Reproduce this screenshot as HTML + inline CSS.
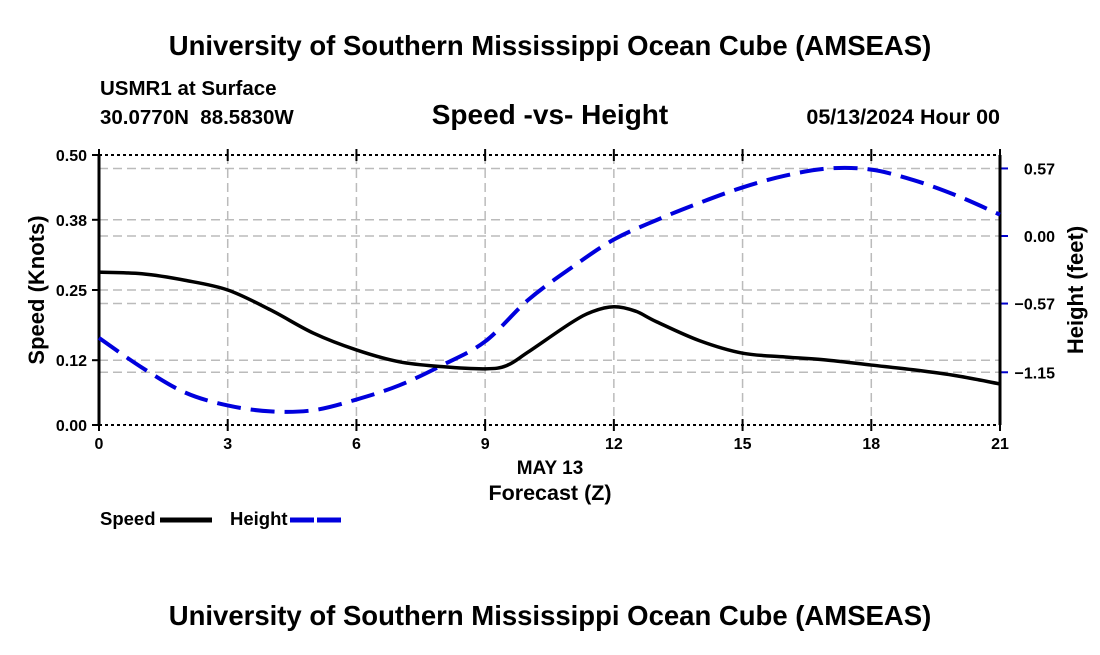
<!DOCTYPE html>
<html><head><meta charset="utf-8"><style>
body{margin:0;background:#fff;width:1100px;height:650px;overflow:hidden}
svg text{font-family:"Liberation Sans",Arial,sans-serif;font-weight:bold;fill:#000}
</style></head><body>
<svg id="chart" width="1100" height="650" xmlns="http://www.w3.org/2000/svg">
<text x="550" y="55" font-size="27.5" text-anchor="middle">University of Southern Mississippi Ocean Cube (AMSEAS)</text>
<text x="100" y="95" font-size="20.5">USMR1 at Surface</text>
<text x="100" y="124" font-size="20.5" xml:space="preserve" style="white-space:pre">30.0770N  88.5830W</text>
<text x="550" y="124" font-size="28" text-anchor="middle">Speed -vs- Height</text>
<text x="1000" y="124" font-size="21.5" text-anchor="end">05/13/2024 Hour 00</text>
<g id="grid"></g>
<g id="axes"></g>
<g id="series"></g>
<text x="550" y="474" font-size="19" text-anchor="middle">MAY 13</text>
<text x="550" y="500" font-size="21.5" text-anchor="middle">Forecast (Z)</text>
<text transform="translate(44,290) rotate(-90)" font-size="22" text-anchor="middle">Speed (Knots)</text>
<text transform="translate(1083,290) rotate(-90)" font-size="22" text-anchor="middle">Height (feet)</text>
<g>
<text x="100" y="525" font-size="18.5">Speed</text>
<line x1="160" y1="520" x2="212" y2="520" stroke="#000" stroke-width="5"/></g>
<g>
<text x="230" y="525" font-size="18.5">Height</text>
<line x1="290" y1="520" x2="342" y2="520" stroke="#0000dd" stroke-width="5" stroke-dasharray="24,3"/></g>
<text x="550" y="625" font-size="27.5" text-anchor="middle">University of Southern Mississippi Ocean Cube (AMSEAS)</text>
</svg>
<script>
const hours=[0,1,2,3,4,5,6,7,8,9,9.5,10,11,11.5,12,12.5,13,14,15,16,17,18,19,20,21];
const speed=[0.283,0.28,0.268,0.25,0.213,0.17,0.139,0.117,0.108,0.104,0.11,0.135,0.189,0.21,0.219,0.211,0.191,0.156,0.133,0.126,0.12,0.111,0.102,0.091,0.076];
const hHours=[0,1,2,3,4,5,6,7,8,9,10,11,12,13,14,15,16,17,18,19,20,21];
const height=[-0.86,-1.11,-1.32,-1.43,-1.48,-1.47,-1.38,-1.26,-1.09,-0.89,-0.54,-0.27,-0.03,0.135,0.28,0.41,0.51,0.57,0.56,0.47,0.34,0.18];
const xTicks=[0,3,6,9,12,15,18,21];
const yTicks=[0,0.12,0.25,0.38,0.5];
const y2Ticks=[-1.15,-0.57,0,0.57];
const L=99,R=1000,T=155,B=425;
const xs=h=>L+h*(R-L)/21;
const ys=v=>B-v*(B-T)/0.5;
const y2s=v=>236-v*118.5;
const NS="http://www.w3.org/2000/svg";
function mk(parent,tag,attrs){const e=document.createElementNS(NS,tag);for(const k in attrs)e.setAttribute(k,attrs[k]);document.getElementById(parent).appendChild(e);return e;}
xTicks.forEach(t=>{
 if(t>0&&t<21){const g=mk('grid','line',{x1:xs(t),x2:xs(t),y1:T,y2:B,stroke:'#bbb','stroke-width':1.5,'stroke-dasharray':'9,5'});
 
 }
 const tk=mk('axes','line',{x1:xs(t),x2:xs(t),y1:B-6,y2:B+6,stroke:'#000','stroke-width':2});
 
 
 const tt=mk('axes','line',{x1:xs(t),x2:xs(t),y1:T-6,y2:T+6,stroke:'#000','stroke-width':2});
 
 
 const lb=mk('axes','text',{x:xs(t),y:B+24,'font-size':16,'text-anchor':'middle'});lb.textContent=t;
 
 
});
yTicks.forEach(t=>{
 if(t>0&&t<0.5){const g=mk('grid','line',{x1:L,x2:R,y1:ys(t),y2:ys(t),stroke:'#bbb','stroke-width':1.5,'stroke-dasharray':'9,5'});
 
 }
 const tk=mk('axes','line',{x1:L-7,x2:L,y1:ys(t),y2:ys(t),stroke:'#000','stroke-width':2});
 
 
 const lb=mk('axes','text',{x:L-12,y:ys(t)+6,'font-size':16,'text-anchor':'end'});lb.textContent=t.toFixed(2);
 
 
});
y2Ticks.forEach(t=>{
 const g=mk('grid','line',{x1:L,x2:R,y1:y2s(t),y2:y2s(t),stroke:'#bbb','stroke-width':1.5,'stroke-dasharray':'9,5'});
 
 
 const tk=mk('axes','line',{x1:R,x2:R+8,y1:y2s(t),y2:y2s(t),stroke:'#0000cc','stroke-width':2});
 
 
 const lb=mk('axes','text',{x:1055,y:y2s(t)+6,'font-size':16,'text-anchor':'end'});lb.textContent=(t<0?'\u2212':'')+Math.abs(t).toFixed(2);
 
 
});
[T,B].forEach(y=>{const l=mk('axes','line',{x1:L,x2:R,y1:y,y2:y,stroke:'#000','stroke-width':2,'stroke-dasharray':'3,3'});
 
 });
[L,R].forEach(x=>{const l=mk('axes','line',{x1:x,x2:x,y1:T,y2:B,stroke:'#000','stroke-width':3});
 
 });
function smooth(pts){let d='M'+pts[0][0]+','+pts[0][1];for(let i=0;i<pts.length-1;i++){const p0=pts[i-1]||pts[i],p1=pts[i],p2=pts[i+1],p3=pts[i+2]||p2;
 d+=' C'+(p1[0]+(p2[0]-p0[0])/6)+','+(p1[1]+(p2[1]-p0[1])/6)+' '+(p2[0]-(p3[0]-p1[0])/6)+','+(p2[1]-(p3[1]-p1[1])/6)+' '+p2[0]+','+p2[1];}return d;}
const hp=mk('series','path',{d:smooth(hHours.map((h,i)=>[xs(h),y2s(height[i])])),fill:'none',stroke:'#0000dd','stroke-width':4,'stroke-dasharray':'24,10'});


const sp=mk('series','path',{d:smooth(hours.map((h,i)=>[xs(h),ys(speed[i])])),fill:'none',stroke:'#000','stroke-width':3.5});


</script>
</body></html>
